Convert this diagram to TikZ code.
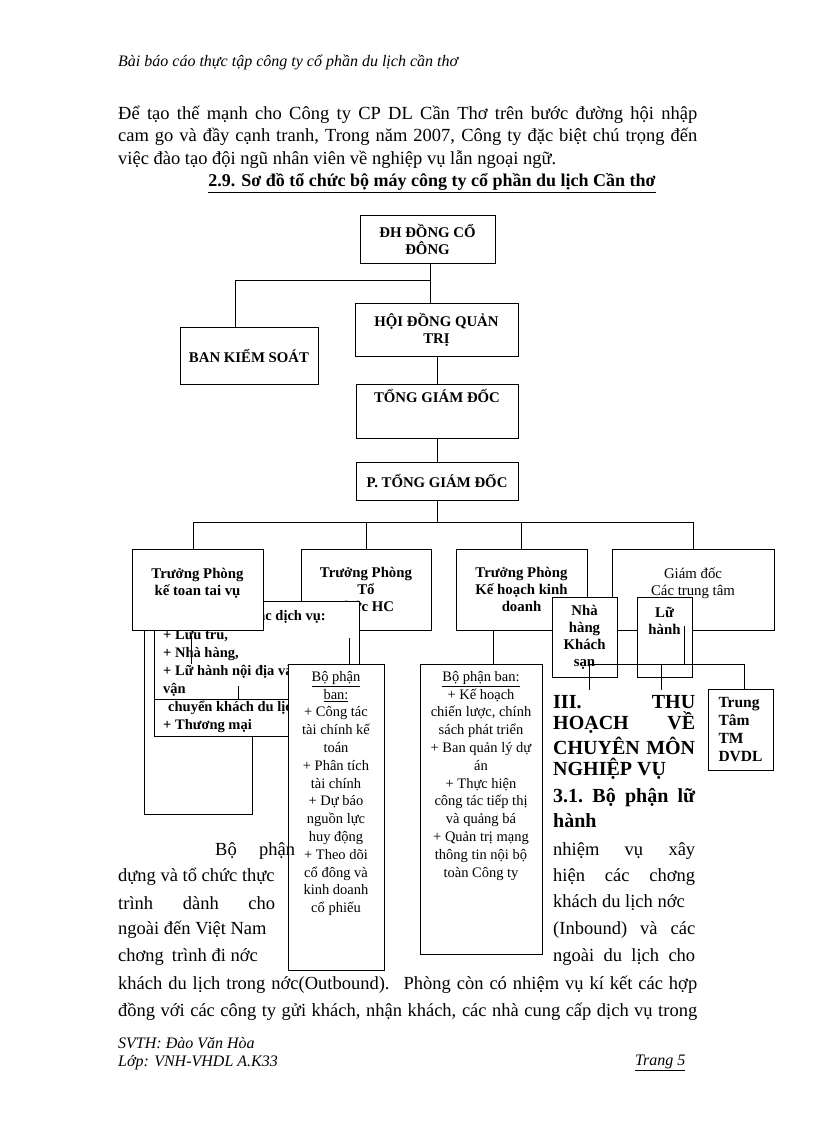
\documentclass[tikz,border=0pt]{standalone}
\usepackage{fontspec}
\setmainfont{Liberation Serif}
\newcommand\jbox[2]{\hbox to #1{#2}}
\begin{document}
\begin{tikzpicture}[x=1pt,y=-1pt,
  box/.style={draw,fill=white,line width=0.8pt,inner sep=0pt,font=\fontsize{14.8}{17}\selectfont\bfseries,align=center},
  ln/.style={line width=0.8pt},
  body/.style={anchor=west,inner sep=0pt,font=\fontsize{18.5}{22}\selectfont},
  hd/.style={anchor=west,inner sep=0pt,font=\fontsize{20}{22}\selectfont\bfseries},
  small/.style={inner sep=0pt,font=\fontsize{14.5}{17.8}\selectfont,align=center,anchor=north},
  dv/.style={anchor=west,inner sep=0pt,font=\fontsize{14.5}{16}\selectfont\bfseries}]
\useasboundingbox (0,0) rectangle (816,1123);
% header and paragraph
\node[body,font=\fontsize{16}{18}\selectfont\itshape] (hdr) at (118,62) {Bài báo cáo thực tập công ty cổ phần du lịch cần thơ};
\node[body] (p1) at (118,115) {\jbox{579pt}{Để tạo thế mạnh cho Công ty CP DL Cần Thơ trên bước đường hội nhập}};
\node[body] (p2) at (118,137) {\jbox{579pt}{cam go và đầy cạnh tranh, Trong năm 2007, Công ty đặc biệt chú trọng đến}};
\node[body] (p3) at (118,160) {việc đào tạo đội ngũ nhân viên về nghiệp vụ lẫn ngoại ngữ.};
\node[inner sep=0pt,font=\fontsize{18}{20}\selectfont\bfseries] (title) at (432,183) {\underline{2.9. Sơ đồ tổ chức bộ máy công ty cổ phần du lịch Cần thơ}};
% connectors top
\draw[ln] (430,263) -- (430,303);
\draw[ln] (430,280) -| (235,327);
\draw[ln] (437,356) -- (437,384);
\draw[ln] (437,438) -- (437,462);
\draw[ln] (437,500) -- (437,522);
\draw[ln] (193,549) |- (693,522) -- (693,549);
\draw[ln] (366,522) -- (366,549);
\draw[ln] (521,522) -- (521,549);
% top boxes
\node[box,minimum width=135pt,minimum height=48pt] (dh) at (427.5,239) {ĐH ĐỒNG CỔ\\ĐÔNG};
\node[box,minimum width=138pt,minimum height=57pt] (bks) at (249,355.5) {BAN KIỂM SOÁT};
\node[box,minimum width=163pt,minimum height=53pt] (hdqt) at (436.5,329.5) {HỘI ĐỒNG QUẢN\\TRỊ};
\node[box,minimum width=162pt,minimum height=54pt] (tgd) at (437,411) {TỔNG GIÁM ĐỐC\\[14pt]~};
\node[box,minimum width=162pt,minimum height=38pt] (ptgd) at (437,481) {P. TỔNG GIÁM ĐỐC};
% back tall box
\draw[ln] (144,630) rectangle (252,814);
% TP TC
\node[box,minimum width=130pt,minimum height=81pt,anchor=north] (tptc) at (366,549) {\rule{0pt}{9pt}Trưởng Phòng\\Tổ\\chức HC};
% dich vu box
\draw[ln,fill=white] (154,601) rectangle (359,736);
\node[dv,anchor=east] (dv0) at (326,617) {Các dịch vụ:};
\node[dv] (dv1) at (163,636) {+ Lưu trú,};
\node[dv] (dv2) at (163,654) {+ Nhà hàng,};
\node[dv] (dv3) at (163,672) {+ Lữ hành nội địa và quốc tế,};
\node[dv] (dv4) at (163,690) {vận};
\node[dv] (dv5) at (168,708) {chuyển khách du lịch};
\node[dv] (dv6) at (163,726) {+ Thương mại};
\draw[ln] (154,699) -- (311,699) -- (311,686);
\draw[ln] (191,636) -- (191,664);
\draw[ln] (238,686) -- (238,700);
\draw[ln] (349,638) -- (349,664);
% TP KT
\node[box,minimum width=131pt,minimum height=81pt,anchor=north] (tpkt) at (197.5,549) {\rule{0pt}{9pt}Trưởng Phòng\\kế toan tai vụ\\~};
% TP KH, GD
\node[box,minimum width=131pt,minimum height=81pt,anchor=north] (tpkh) at (521.5,549) {\rule{0pt}{9pt}Trưởng Phòng\\Kế hoạch kinh\\doanh};
\node[box,minimum width=162pt,minimum height=81pt,anchor=north,font=\fontsize{14.8}{17}\selectfont] (gd) at (693,549) {\rule{0pt}{9pt}Giám đốc\\Các trung tâm\\~};
\draw[ln] (493,630) -- (493,664);
% bo phan boxes
\node[draw,fill=white,line width=0.8pt,minimum width=96pt,minimum height=306pt] (bp1) at (336,817) {};
\node[small] (bp1t) at (336,671) {\underline{Bộ phận}\\\underline{ban:}\\+ Công tác\\tài chính kế\\toán\\+ Phân tích\\tài chính\\+ Dự báo\\nguồn lực\\huy động\\+ Theo dõi\\cổ đông và\\kinh doanh\\cổ phiếu};
\node[draw,fill=white,line width=0.8pt,minimum width=122pt,minimum height=290pt] (bp2) at (481,809) {};
\node[small] (bp2t) at (481,671) {\underline{Bộ phận ban:}\\+ Kế hoạch\\chiến lược, chính\\sách phát triển\\+ Ban quản lý dự\\án\\+ Thực hiện\\công tác tiếp thị\\và quảng bá\\+ Quản trị mạng\\thông tin nội bộ\\toàn Công ty};
% small boxes right
\node[box,minimum width=65pt,minimum height=80pt,anchor=north] (nh) at (584.5,597) {\rule{0pt}{9pt}Nhà\\hàng\\Khách\\sạn};
\node[box,minimum width=55pt,minimum height=80pt,anchor=north] (lh) at (664.5,597) {\rule{0pt}{9pt}Lữ\\hành\\~\\~};
\draw[ln] (589,690) -- (589,664) -- (744,664) -- (744,689);
\draw[ln] (661,664) -- (661,690);
\draw[ln] (684,626) -- (684,664);
\node[box,minimum width=65pt,minimum height=81pt,anchor=north,align=left,font=\fontsize{15.5}{18}\selectfont\bfseries] (tt) at (740.5,689) {\rule{0pt}{9pt}Trung\\Tâm\\TM\\DVDL};
% heading III
\node[hd] (h1) at (553,702) {\jbox{142pt}{III.\hfill THU}};
\node[hd] (h2) at (553,723) {\jbox{142pt}{HOẠCH\hfill VỀ}};
\node[hd] (h3) at (553,746) {\jbox{142pt}{CHUYÊN\hfill MÔN}};
\node[hd] (h4) at (553,769) {NGHIỆP VỤ};
\node[hd] (h5) at (553,798) {\jbox{142pt}{3.1.\hfill Bộ\hfill phận\hfill lữ}};
\node[hd] (h6) at (553,821) {hành};
% body text
\node[body] (b1) at (215,851) {\jbox{80pt}{Bộ\hfill phận}};
\node[body] (r1) at (553,851) {\jbox{142pt}{nhiệm\hfill vụ\hfill xây}};
\node[body] (b2) at (118,877) {dựng và tổ chức thực};
\node[body] (r2) at (553,877) {\jbox{142pt}{hiện\hfill các\hfill chơng}};
\node[body] (b3) at (118,903) {\jbox{157pt}{trình\hfill dành\hfill cho}};
\node[body] (r3) at (553,903) {khách du lịch nớc};
\node[body] (b4) at (118,930) {ngoài đến Việt Nam};
\node[body] (r4) at (553,930) {\jbox{142pt}{(Inbound)\hfill và\hfill các}};
\node[body] (b5) at (118,957) {chơng\hspace{8pt}trình đi nớc};
\node[body] (r5) at (553,957) {\jbox{142pt}{ngoài\hfill du\hfill lịch\hfill cho}};
\node[body] (b6) at (118,985) {\jbox{579pt}{khách du lịch trong nớc(Outbound).\hspace{4pt} Phòng còn có nhiệm vụ kí kết các hợp}};
\node[body] (b7) at (118,1012) {\jbox{579pt}{đồng với các công ty gửi khách, nhận khách, các nhà cung cấp dịch vụ trong}};
% footer
\node[body,font=\fontsize{16}{18}\selectfont\itshape] (f1) at (118,1043) {SVTH: Đào Văn Hòa};
\node[body,font=\fontsize{16}{18}\selectfont\itshape] (f2) at (118,1063) {Lớp: VNH-VHDL A.K33};
\node[body,font=\fontsize{16}{18}\selectfont\itshape] (f3) at (635,1063) {\underline{Trang 5}};
\end{tikzpicture}
\end{document}
